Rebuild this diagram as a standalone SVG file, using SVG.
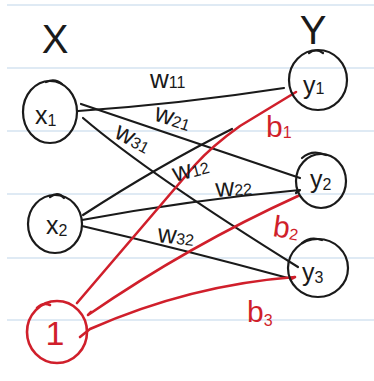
<svg xmlns="http://www.w3.org/2000/svg" width="374" height="381" viewBox="0 0 374 381">
  <style>
    .ink { fill: none; stroke: #1a1a1a; stroke-width: 2.2; stroke-linecap: round; stroke-linejoin: round; }
    .red { fill: none; stroke: #d01f2b; stroke-width: 2.6; stroke-linecap: round; stroke-linejoin: round; }
    .rule { stroke: #dfeaf4; stroke-width: 2; }
    text { font-family: "Liberation Sans", "DejaVu Sans", sans-serif; fill: #1a1a1a; }
    .lbl { font-size: 25px; }
    .wl { font-size: 26px; }
    .sub { font-size: 16px; }
    .rtxt { fill: #d01f2b; }
  </style>

  <!-- paper -->
  <rect x="0" y="0" width="374" height="381" fill="#ffffff"/>
  <g id="ruling">
    <line class="rule" x1="7" y1="5" x2="374" y2="5"/>
    <line class="rule" x1="7" y1="68" x2="374" y2="68"/>
    <line class="rule" x1="7" y1="131" x2="374" y2="131"/>
    <line class="rule" x1="7" y1="194" x2="374" y2="194"/>
    <line class="rule" x1="7" y1="258" x2="374" y2="258"/>
    <line class="rule" x1="7" y1="320" x2="374" y2="320"/>
  </g>

  <!-- column headings -->
  <text x="55" y="53" font-size="40" text-anchor="middle">X</text>
  <text x="313" y="44" font-size="40" text-anchor="middle">Y</text>

  <!-- weights and biases -->
  <g id="connectors">
    <path class="ink" d="M78,111 Q180,104 284,88"/>
    <path class="ink" d="M81,104 L300,178"/>
    <path class="ink" d="M83,118 Q150,175 298,267"/>
    <path class="ink" d="M83,215 Q160,165 232,129"/>
    <path class="ink" d="M82,220 Q190,200 300,190 L296,193"/>
    <path class="ink" d="M82,226 Q185,250 288,278"/>

    <path class="red" d="M77,303 L195,165 Q212,146 240,126 L296,92"/>
    <path class="red" d="M91,312 L88,315 Q190,245 298,196"/>
    <path class="red" d="M80,337 L90,329 Q190,285 295,277 L291,279"/>
  </g>

  <g id="labels">
    <text class="wl" x="150" y="88">w<tspan class="sub">11</tspan></text>
    <text class="wl" transform="translate(153,120) rotate(18)">w<tspan class="sub">21</tspan></text>
    <text class="wl" transform="translate(113,137) rotate(28)">w<tspan class="sub">31</tspan></text>
    <text class="wl" transform="translate(175,182) rotate(-15)">w<tspan class="sub">12</tspan></text>
    <text class="wl" transform="translate(216,197) rotate(-4)">w<tspan class="sub">22</tspan></text>
    <text class="wl" transform="translate(157,242) rotate(6)">w<tspan class="sub">32</tspan></text>
    <text class="rtxt" font-size="30" x="266" y="137">b<tspan class="sub" dy="1">1</tspan></text>
    <text class="rtxt" font-size="30" transform="translate(272,236) rotate(8)">b<tspan class="sub" dy="1">2</tspan></text>
    <text class="rtxt" font-size="30" x="247" y="322">b<tspan class="sub" dy="4">3</tspan></text>
  </g>

  <!-- input nodes -->
  <g id="x1">
    <ellipse class="ink" cx="50" cy="112" rx="27" ry="31"/>
    <path class="ink" d="M46,82 Q55,78 62,84"/>
    <text class="lbl" x="35" y="124">x<tspan class="sub" dy="2">1</tspan></text>
  </g>
  <g id="x2">
    <ellipse class="ink" cx="55" cy="224" rx="27" ry="29"/>
    <path class="ink" d="M50,197 Q58,191 64,198"/>
    <text class="lbl" x="46" y="234">x<tspan class="sub" dy="2">2</tspan></text>
  </g>
  <g id="bias">
    <ellipse class="red" cx="57" cy="332" rx="30" ry="31"/>
    <path class="red" d="M37,308 Q43,302 50,305"/>
    <text class="rtxt" font-size="34" x="55" y="345" text-anchor="middle">1</text>
  </g>

  <!-- output nodes -->
  <g id="y1">
    <ellipse class="ink" cx="318" cy="80" rx="29" ry="30"/>
    <path class="ink" d="M309,53 Q316,48 323,53"/>
    <text class="lbl" x="303" y="94">y<tspan class="sub">1</tspan></text>
  </g>
  <g id="y2">
    <ellipse class="ink" cx="321" cy="181" rx="25" ry="27"/>
    <path class="ink" d="M302,158 Q312,149 326,155"/>
    <text class="lbl" x="310" y="188">y<tspan class="sub" dy="2">2</tspan></text>
  </g>
  <g id="y3">
    <ellipse class="ink" cx="318" cy="268" rx="30" ry="29"/>
    <path class="ink" d="M302,243 Q310,236 322,240"/>
    <text class="lbl" x="302" y="281">y<tspan class="sub" dy="2">3</tspan></text>
  </g>
</svg>
